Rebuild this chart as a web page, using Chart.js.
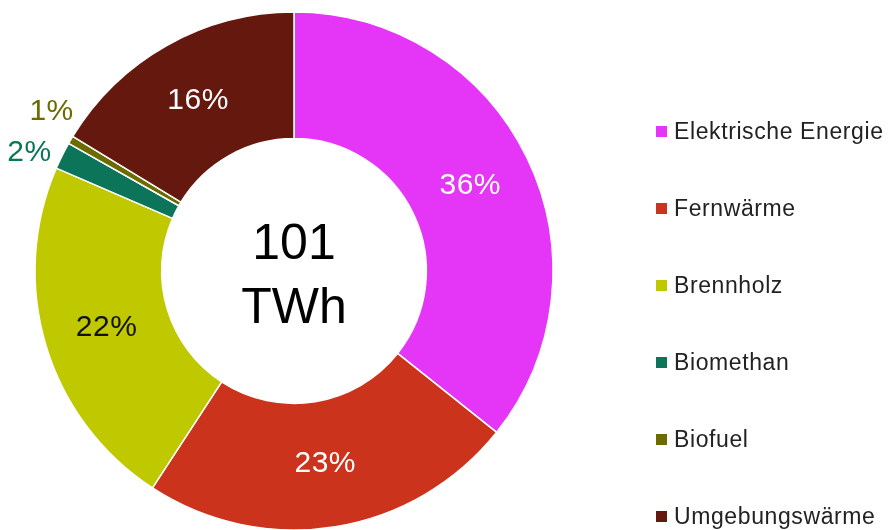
<!DOCTYPE html>
<html>
<head>
<meta charset="utf-8">
<script src="https://cdn.jsdelivr.net/npm/chart.js@4/dist/chart.umd.min.js"></script>
<style>
  html, body { margin: 0; padding: 0; background: #fff; }
  #wrap { position: relative; width: 894px; height: 530px; overflow: hidden; }
  #legend { position: absolute; left: 656px; top: 0; font-family: "Liberation Sans", Arial, sans-serif; font-size: 23px; letter-spacing: 0.6px; color: #222; }
  .item { position: absolute; left: 0; white-space: nowrap; display: flex; align-items: center; height: 30px; margin-top: -15px; }
  .box { width: 11px; height: 11px; margin-right: 7px; }
</style>
</head>
<body>
<div id="wrap">
  <canvas id="chart" width="894" height="530"></canvas>
  <div id="legend"></div>
</div>
<script>
const categories = ['Elektrische Energie', 'Fernwärme', 'Brennholz', 'Biomethan', 'Biofuel', 'Umgebungswärme'];
// shares, the printed labels are rounded
const shares = [35.7, 23.5, 22.3, 1.7, 0.5, 16.3];
const shareLabels = ['36%', '23%', '22%', '2%', '1%', '16%'];
const colors = ['#e535f7', '#cc331c', '#c0c800', '#0c7458', '#6b6b00', '#65190e'];
const labelColors = ['#ffffff', '#ffffff', '#111111', '#0c7458', '#6b6b00', '#ffffff'];
const outsideLabel = [false, false, false, true, true, false];
const centerLines = ['101', 'TWh'];

// legend as html
const legend = document.getElementById('legend');
categories.forEach((name, i) => {
  const row = document.createElement('div');
  row.className = 'item';
  row.style.top = (131 + i * 77) + 'px';
  row.innerHTML = '<span class="box" style="background:' + colors[i] + '"></span>' + name;
  legend.appendChild(row);
});

const sliceLabels = {
  id: 'sliceLabels',
  afterDatasetsDraw(chart) {
    const ctx = chart.ctx;
    const meta = chart.getDatasetMeta(0);
    ctx.save();
    ctx.textAlign = 'center';
    ctx.textBaseline = 'middle';
    ctx.font = '30px "Liberation Sans", Arial, sans-serif';
    ctx.letterSpacing = '0.5px';
    meta.data.forEach((arc, i) => {
      let pos;
      if (outsideLabel[i]) {
        // small slices get their label outside, pushed apart a bit
        const mid = (arc.startAngle + arc.endAngle) / 2 + (i === 4 ? 0.05 : -0.04);
        const r = arc.outerRadius + 31;
        pos = { x: arc.x + Math.cos(mid) * r, y: arc.y + Math.sin(mid) * r };
      } else {
        pos = arc.tooltipPosition();
      }
      ctx.fillStyle = labelColors[i];
      ctx.fillText(shareLabels[i], pos.x, pos.y);
    });
    // total in the hole
    const c = meta.data[0];
    ctx.fillStyle = '#000';
    ctx.letterSpacing = '0px';
    ctx.font = '50px "Liberation Sans", Arial, sans-serif';
    ctx.fillText(centerLines[0], c.x, c.y - 26);
    ctx.fillText(centerLines[1], c.x, c.y + 38);
    ctx.restore();
  }
};

const ctx = document.getElementById('chart').getContext('2d');
new Chart(ctx, {
  type: 'doughnut',
  data: {
    labels: categories,
    datasets: [{
      data: shares,
      backgroundColor: colors,
      borderColor: '#ffffff',
      borderWidth: 1.5,
      clip: false
    }]
  },
  options: {
    responsive: false,
    animation: false,
    radius: 259,
    cutout: 132,
    layout: { padding: { left: 0, right: 306, top: 12, bottom: 0 } },
    plugins: {
      legend: { display: false },
      tooltip: { enabled: false }
    }
  },
  plugins: [sliceLabels]
});
</script>
</body>
</html>
